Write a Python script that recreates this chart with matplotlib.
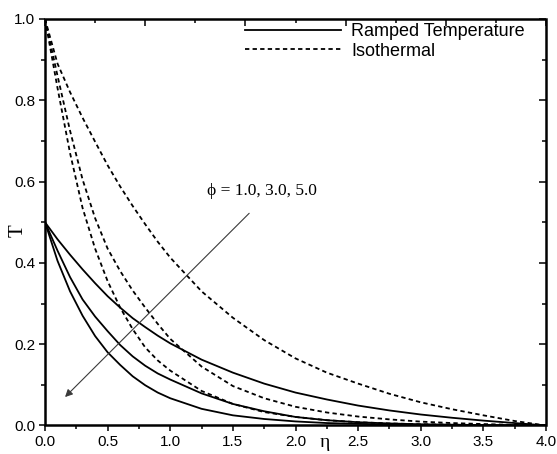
import matplotlib.pyplot as plt
from matplotlib.patches import Rectangle
from matplotlib.ticker import MultipleLocator, NullFormatter

# similarity variable
eta = [0.0, 0.1, 0.2, 0.3, 0.4, 0.5, 0.6, 0.7, 0.8, 0.9, 1.0,
       1.25, 1.5, 1.75, 2.0, 2.25, 2.5, 2.75, 3.0, 3.25, 3.5, 3.75, 4.0]

# isothermal plate, phi = 1, 3, 5
iso_phi1 = [1.0, 0.89, 0.82, 0.757, 0.698, 0.64, 0.588, 0.54, 0.495, 0.452, 0.413,
            0.33, 0.265, 0.21, 0.165, 0.13, 0.103, 0.078, 0.057, 0.04, 0.025, 0.011, 0.0]
iso_phi3 = [1.0, 0.86, 0.725, 0.605, 0.51, 0.435, 0.38, 0.332, 0.29, 0.25, 0.213,
            0.145, 0.097, 0.067, 0.046, 0.032, 0.022, 0.015, 0.0095, 0.006, 0.0035, 0.0015, 0.0]
iso_phi5 = [1.0, 0.83, 0.67, 0.535, 0.435, 0.355, 0.29, 0.237, 0.192, 0.16, 0.135,
            0.085, 0.053, 0.033, 0.021, 0.013, 0.008, 0.005, 0.003, 0.002, 0.001, 0.0005, 0.0]

# ramped wall temperature, phi = 1, 3, 5
ramp_phi1 = [0.5, 0.458, 0.42, 0.384, 0.35, 0.318, 0.29, 0.264, 0.242, 0.221, 0.202,
             0.162, 0.13, 0.103, 0.081, 0.064, 0.049, 0.037, 0.027, 0.019, 0.012, 0.006, 0.0]
ramp_phi3 = [0.5, 0.43, 0.365, 0.31, 0.268, 0.232, 0.198, 0.17, 0.147, 0.128, 0.113,
             0.079, 0.053, 0.035, 0.021, 0.013, 0.008, 0.005, 0.003, 0.002, 0.001, 0.0005, 0.0]
ramp_phi5 = [0.5, 0.405, 0.33, 0.27, 0.22, 0.18, 0.149, 0.121, 0.099, 0.081, 0.067,
             0.041, 0.025, 0.016, 0.01, 0.006, 0.004, 0.0025, 0.0015, 0.001, 0.0005, 0.0002, 0.0]

sans = ['Liberation Sans', 'DejaVu Sans']
serif = ['Liberation Serif', 'DejaVu Serif']
plt.rcParams['font.family'] = sans

fig = plt.figure(figsize=(5.57, 4.54), dpi=100)
ax = fig.add_axes([0.0808, 0.0628, 0.8995, 0.8954])

dash = (0, (2.4, 1.8))
lw = 1.3
ax.plot(eta, ramp_phi1, color='black', lw=lw, label='Ramped Temperature')
ax.plot(eta, ramp_phi3, color='black', lw=lw)
ax.plot(eta, ramp_phi5, color='black', lw=lw)
ax.plot(eta, iso_phi1, color='black', lw=lw, linestyle=dash, label='Isothermal')
ax.plot(eta, iso_phi3, color='black', lw=lw, linestyle=dash)
ax.plot(eta, iso_phi5, color='black', lw=lw, linestyle=dash)

ax.set_xlim(0, 4)
ax.set_ylim(0, 1)

ax.xaxis.set_major_locator(MultipleLocator(0.5))
ax.xaxis.set_minor_locator(MultipleLocator(0.25))
ax.yaxis.set_major_locator(MultipleLocator(0.2))
ax.yaxis.set_minor_locator(MultipleLocator(0.1))
ax.xaxis.set_major_formatter(lambda v, p: f'{v:.1f}')
ax.yaxis.set_major_formatter(lambda v, p: f'{v:.1f}')
ax.tick_params(which='major', direction='out', length=4.5, width=1.1,
               labelsize=11, pad=2.5)
ax.tick_params(which='minor', direction='out', length=2.8, width=1.1)
ax.tick_params(which='both', top=False, right=False)

# frame drawn as one box around the plotting area
for s in ax.spines.values():
    s.set_visible(False)
ax.add_patch(Rectangle((0, 0), 1, 1, transform=ax.transAxes, fill=False,
                       edgecolor='#000000', lw=1.8, clip_on=False, zorder=10))

# inward ticks on the top and right edges
top = ax.secondary_xaxis('top')
top.xaxis.set_major_locator(MultipleLocator(0.8))
top.xaxis.set_minor_locator(MultipleLocator(0.4))
top.xaxis.set_major_formatter(NullFormatter())
top.tick_params(which='major', direction='in', length=5, width=1.1, color='#000000')
top.tick_params(which='minor', direction='in', length=3.2, width=1.1, color='#000000')
top.spines['top'].set_visible(False)

right = ax.secondary_yaxis('right')
right.yaxis.set_major_locator(MultipleLocator(0.2))
right.yaxis.set_minor_locator(MultipleLocator(0.1))
right.yaxis.set_major_formatter(NullFormatter())
right.tick_params(which='major', direction='in', length=5, width=1.1, color='#000000')
right.tick_params(which='minor', direction='in', length=3.2, width=1.1, color='#000000')
right.spines['right'].set_visible(False)

fig.text(0.032, 0.493, 'T', rotation=90, ha='center', va='center',
         fontsize=15, family=serif)
fig.text(0.583, 0.026, 'η', ha='center', va='center', fontsize=14, family=serif)

ax.annotate('', xy=(0.16, 0.07), xytext=(1.63, 0.522),
            arrowprops=dict(arrowstyle='-|>', lw=0.8, color='#3a3a3a',
                            mutation_scale=11, shrinkA=0, shrinkB=0))
ax.text(1.29, 0.567, 'ϕ = 1.0, 3.0, 5.0', ha='left', va='baseline',
        fontsize=12.5, family=serif)

ax.legend(loc='upper left', bbox_to_anchor=(0.399, 0.99), frameon=False,
          fontsize=13, handlelength=5.3, handletextpad=0.6, labelspacing=0.15,
          borderpad=0, borderaxespad=0)

fig.savefig('out.png', dpi=100)
